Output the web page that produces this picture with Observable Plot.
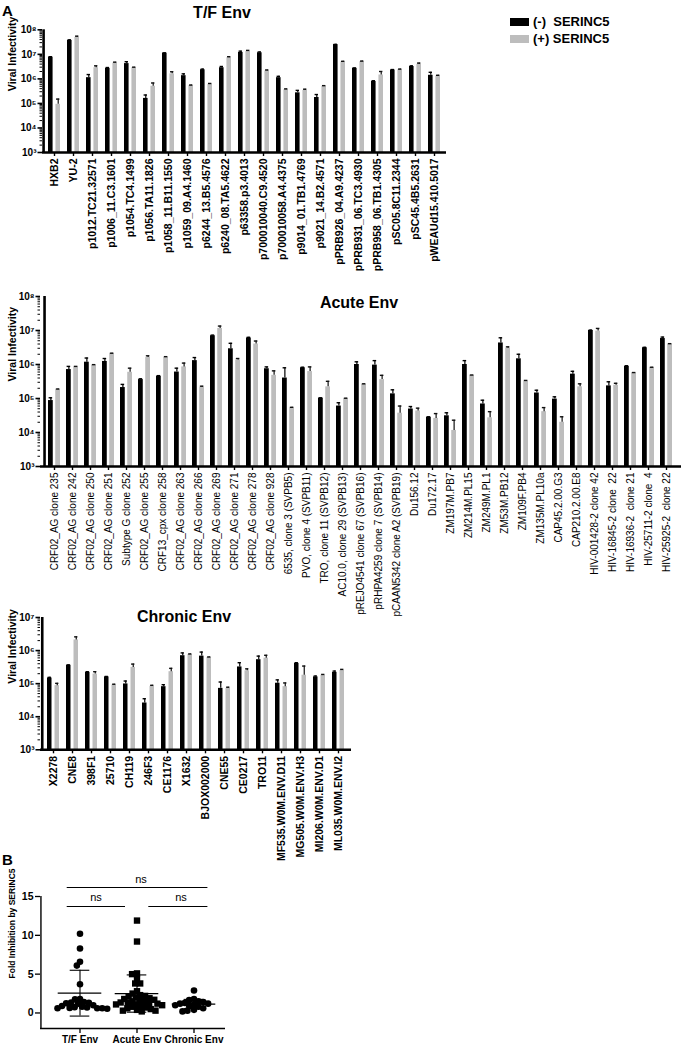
<!DOCTYPE html>
<html><head><meta charset="utf-8">
<script src="https://cdn.jsdelivr.net/npm/d3@7"></script>
<script src="https://cdn.jsdelivr.net/npm/@observablehq/plot@0.6"></script>
<style>
body{margin:0;background:#fff;}
#page{position:relative;width:681px;height:1050px;overflow:hidden;font-family:Arial,"Liberation Sans",sans-serif;color:#000;}
.title{position:absolute;font-weight:bold;font-size:16px;white-space:nowrap;transform:translate(-50%,-50%);}
.letter{position:absolute;font-weight:bold;font-size:15px;}
.leg{position:absolute;font-weight:bold;font-size:13px;white-space:pre;}
.sw{position:absolute;width:19px;height:8px;}
</style></head><body><div id="page"></div>
<script>
// ---------- Panel A: T/F Env ----------
const tfStrains = ["HXB2","YU-2","p1012.TC21.32571","p1006_11.C3.1601","p1054.TC4.1499","p1056.TA11.1826","p1058_11.B11.1550","p1059_09.A4.1460","p6244_13.B5.4576","p6240_08.TA5.4622","p63358.p3.4013","p700010040.C9.4520","p700010058.A4.4375","p9014_01.TB1.4769","p9021_14.B2.4571","pPRB926_04.A9.4237","pPRB931_06.TC3.4930","pPRB958_06.TB1.4305","pSC05.8C11.2344","pSC45.4B5.2631","pWEAUd15.410.5017"];
const tfNeg   = [7.7e6,3.7e7,1.12e6,2.7e6,4.2e6,1.6e5,1.12e7,1.35e6,2.35e6,2.85e6,1.2e7,1.16e7,1.12e6,2.7e5,1.74e5,2.5e7,2.7e6,7.9e5,2.3e6,3.2e6,1.4e6];
const tfNegHi = [8.0e6,3.9e7,1.5e6,2.9e6,5.0e6,2.2e5,1.15e7,1.6e6,2.5e6,3.2e6,1.35e7,1.25e7,1.27e6,3.4e5,2.3e5,2.55e7,2.8e6,8.4e5,2.4e6,3.4e6,1.85e6];
const tfPos   = [9.2e4,4.9e7,2.85e6,4.4e6,2.85e6,5.0e5,1.6e6,5.3e5,6.0e5,7.3e6,1.32e7,2.1e6,3.6e5,3.4e5,5.0e5,4.9e6,5.0e6,1.44e6,2.35e6,3.9e6,1.3e6];
const tfPosHi = [1.5e5,5.5e7,3.4e6,4.8e6,3.0e6,6.8e5,1.95e6,5.6e5,6.5e5,8.0e6,1.45e7,2.3e6,3.9e5,3.8e5,5.3e5,5.2e6,5.3e6,2.0e6,2.5e6,4.4e6,1.4e6];

// ---------- Panel A: Acute Env ----------
const acStrains = ["CRF02_AG clone 235","CRF02_AG clone 242","CRF02_AG clone 250","CRF02_AG clone 251","Subtype G clone 252","CRF02_AG clone 255","CRF13_cpx clone 258","CRF02_AG clone 263","CRF02_AG clone 266","CRF02_AG clone 269","CRF02_AG clone 271","CRF02_AG clone 278","CRF02_AG clone 928","6535, clone 3 (SVPB5)","PVO, clone 4 (SVPB11)","TRO, clone 11 (SVPB12)","AC10.0, clone 29 (SVPB13)","pREJO4541 clone 67 (SVPB16)","pRHPA4259 clone 7 (SVPB14)","pCAAN5342 clone A2 (SVPB19)","Du156.12","Du172.17","ZM197M.PB7","ZM214M.PL15","ZM249M.PL1","ZM53M.PB12","ZM109F.PB4","ZM135M.PL10a","CAP45.2.00.G3","CAP210.2.00.E8","HIV-001428-2 clone 42","HIV-16845-2 clone  22","HIV-16936-2  clone 21","HIV-25711-2 clone  4","HIV-25925-2  clone 22"];
const acNeg   = [8.7e4,7.1e5,1.17e6,1.23e6,2.1e5,3.6e5,4.5e5,6.0e5,1.3e6,7.0e6,2.9e6,6.0e6,7.5e5,4.0e5,8.0e5,1.02e5,6.0e4,1.0e6,9.6e5,1.37e5,4.9e4,2.8e4,3.1e4,1.0e6,6.9e4,4.3e6,1.47e6,1.45e5,9.6e4,5.2e5,1.0e7,2.35e5,8.8e5,3.1e6,5.8e6];
const acNegHi = [1.05e5,8.8e5,1.55e6,1.5e6,2.6e5,3.8e5,4.7e5,7.8e5,1.6e6,7.3e6,4.2e6,6.3e6,8.5e5,8.0e5,8.3e5,1.05e5,7.5e4,1.2e6,1.3e6,1.8e5,5.8e4,2.9e4,3.8e4,1.3e6,8.9e4,6.1e6,2.0e6,1.75e5,1.12e5,6.3e5,1.03e7,3.1e5,9.2e5,3.2e6,6.4e6];
const acPos   = [1.8e5,8.4e5,9.4e5,2.05e6,5.9e5,1.6e6,1.6e6,8.5e5,2.1e5,1.15e7,1.35e6,4.0e6,4.8e5,5.2e4,6.2e5,2.2e5,9.8e4,2.6e5,3.6e5,3.7e4,4.3e4,2.6e4,1.15e4,4.8e5,2.7e4,3.0e6,3.2e5,4.1e4,2.0e4,2.2e5,9.6e6,2.45e5,5.6e5,8.0e5,3.9e6];
const acPosHi = [1.9e5,8.8e5,9.9e5,2.15e6,7.8e5,1.8e6,1.7e6,1.1e6,2.3e5,1.35e7,1.5e6,4.9e6,6.5e5,5.5e4,8.5e5,3.2e5,1.02e5,2.7e5,4.8e5,6.0e4,5.2e4,3.6e4,2.3e4,4.9e5,4.1e4,3.3e6,3.4e5,5.4e4,2.9e4,2.7e5,1.15e7,2.8e5,5.8e5,8.3e5,4.1e6];

// ---------- Panel A: Chronic Env ----------
const chStrains = ["X2278","CNE8","398F1","25710","CH119","246F3","CE1176","X1632","BJOX002000","CNE55","CE0217","TRO11","MF535.W0M.ENV.D11","MG505.W0M.ENV.H3","MI206.W0M.ENV.D1","ML035.W0M.ENV.I2"];
const chNeg   = [1.48e5,3.6e5,2.2e5,1.6e5,9.8e4,2.6e4,8.1e4,7.0e5,6.8e5,7.2e4,3.2e5,5.3e5,1.03e5,4.1e5,1.6e5,2.2e5];
const chNegHi = [1.55e5,3.7e5,2.3e5,1.65e5,1.2e5,3.5e4,9.3e4,8.5e5,9.0e5,1.12e5,4.3e5,6.8e5,1.3e5,4.3e5,1.7e5,2.4e5];
const chPos   = [8.7e4,2.1e6,1.95e5,9.1e4,3.1e5,8.3e4,2.3e5,7.6e5,6.2e5,7.2e4,2.45e5,5.9e5,8.1e4,1.8e5,1.8e5,2.5e5];
const chPosHi = [1.02e5,2.6e6,2.3e5,9.6e4,3.9e5,8.9e4,2.9e5,7.9e5,6.4e5,7.8e4,2.8e5,7.2e5,1.05e5,3.4e5,1.9e5,2.7e5];

const seriesLabels = ["(-)  SERINC5", "(+) SERINC5"];

// ---------- Panel B ----------
const bGroups = ["T/F Env","Acute Env","Chronic Env"];
const tfFold = [10.2,8.3,6.6,6.1,3.7,1.8,1.75,1.4,1.35,1.3,1.25,1.2,1.0,0.9,0.8,0.75,0.7,0.65,0.6,0.6,0.6,0.55];
const acFold = [11.9,9.2,5.1,5.0,4.4,3.8,3.8,2.8,2.5,2.3,2.2,2.1,2.0,1.9,1.8,1.7,1.6,1.5,1.4,1.35,1.3,1.2,1.2,1.1,1.1,1.0,0.9,0.8,0.7,0.6,0.5,0.4,0.3,0.3,0.2];
const chFold = [2.9,1.8,1.65,1.5,1.4,1.3,1.2,1.2,1.1,1.0,0.9,0.8,0.6,0.4,0.3,0.2];
const bMean = [2.55, 2.5, 1.15];
const bSD = [2.95, 2.4, 0.6];
const bTicks = [0, 5, 10, 15];

// ---------- helpers ----------
const FONT = "Arial, 'Liberation Sans', sans-serif";
const BLACK = "#000", GREY = "#bdbdbd";
const page = document.getElementById("page");
function place(el, left, top) {
  el.style.position = "absolute"; el.style.left = left + "px"; el.style.top = top + "px";
  page.appendChild(el);
}
function div(cls, text, x, y) {
  const d = document.createElement("div"); d.className = cls; d.textContent = text;
  d.style.left = x + "px"; d.style.top = y + "px"; page.appendChild(d); return d;
}
const supMap = {"0":"⁰","1":"¹","2":"²","3":"³","4":"⁴","5":"⁵","6":"⁶","7":"⁷","8":"⁸","9":"⁹"};
const supFmt = d => "10" + String(Math.round(Math.log10(d))).split("").map(c => supMap[c]).join("");

function barPanel({strains, neg, negHi, pos, posHi, width, height, marginLeft, marginTop, marginBottom, pi, po, yDomain, labelWeight, labelSize}) {
  const n = strains.length;
  const step = (width - marginLeft) / (n - pi + 2 * po);
  const bw = step * (1 - pi);
  const barW = 5;
  const negData = strains.map((s, i) => ({strain: s, v: neg[i], hi: negHi[i]}));
  const posData = strains.map((s, i) => ({strain: s, v: pos[i], hi: posHi[i]}));
  const k0 = Math.round(Math.log10(yDomain[0])), k1 = Math.round(Math.log10(yDomain[1]));
  const majors = d3.range(k0, k1 + 1).map(k => 10 ** k);
  const minors = d3.range(k0, k1).flatMap(k => d3.range(2, 10).map(m => m * 10 ** k));
  return Plot.plot({
    width, height, marginLeft, marginRight: 0, marginTop, marginBottom,
    style: {background: "transparent", fontFamily: FONT, color: "#000", overflow: "visible"},
    x: {domain: strains, paddingInner: pi, paddingOuter: po},
    y: {type: "log", domain: yDomain},
    marks: [
      Plot.barY(negData, {x: "strain", y1: yDomain[0], y2: "v", fill: BLACK, insetLeft: 0, insetRight: bw - barW}),
      Plot.barY(posData, {x: "strain", y1: yDomain[0], y2: "v", fill: GREY, insetLeft: bw - barW, insetRight: 0}),
      Plot.ruleX(negData, {x: "strain", y1: "v", y2: "hi", dx: barW / 2 - bw / 2, stroke: BLACK, strokeWidth: 1.2}),
      Plot.tickY(negData, {x: "strain", y: "hi", insetLeft: 0.6, insetRight: bw - barW + 0.6, stroke: BLACK, strokeWidth: 1.4}),
      Plot.ruleX(posData, {x: "strain", y1: "v", y2: "hi", dx: bw / 2 - barW / 2, stroke: "#111", strokeWidth: 1.2}),
      Plot.tickY(posData, {x: "strain", y: "hi", insetLeft: bw - barW + 0.6, insetRight: 0.6, stroke: "#111", strokeWidth: 1.4}),
      Plot.axisY(minors, {tickSize: 2.5, tickFormat: () => "", strokeWidth: 1, label: null}),
      Plot.axisY(majors, {tickSize: 4.5, tickPadding: 1.5, tickFormat: supFmt, fontSize: 10, fontWeight: "bold", strokeWidth: 1.6, label: null}),
      Plot.axisX({tickRotate: -90, tickSize: 4, tickPadding: 2, fontSize: labelSize, fontWeight: labelWeight, strokeWidth: 1.4, label: null}),
      Plot.ruleY([yDomain[0]], {stroke: BLACK, strokeWidth: 2.4}),
      Plot.ruleX([strains[0]], {dx: -(po * step + bw / 2), stroke: BLACK, strokeWidth: 2.6}),
      Plot.text(["Viral Infectivity"], {text: d => d, frameAnchor: "left", rotate: -90, dx: -(marginLeft - 12), fontSize: 10.5, fontWeight: "bold"})
    ]
  });
}

// T/F panel
place(barPanel({strains: tfStrains, neg: tfNeg, negHi: tfNegHi, pos: tfPos, posHi: tfPosHi,
  width: 446, height: 267, marginLeft: 42, marginTop: 29.3, marginBottom: 115, pi: 0.35, po: 0.246,
  yDomain: [1e3, 1e8], labelWeight: "bold", labelSize: 10.5}), 0, 0);
// Acute panel
place(barPanel({strains: acStrains, neg: acNeg, negHi: acNegHi, pos: acPos, posHi: acPosHi,
  width: 681, height: 329, marginLeft: 40, marginTop: 11, marginBottom: 148, pi: 0.33, po: 0.21,
  yDomain: [1e3, 1e8], labelWeight: "normal", labelSize: 10}), 0, 285);
// Chronic panel
place(barPanel({strains: chStrains, neg: chNeg, negHi: chNegHi, pos: chPos, posHi: chPosHi,
  width: 351, height: 259, marginLeft: 40, marginTop: 12, marginBottom: 114.7, pi: 0.35, po: 0.26,
  yDomain: [1e3, 1e7], labelWeight: "bold", labelSize: 10.5}), 0, 605);

// Titles, letters, legend
div("title", "T/F Env", 222, 13);
div("title", "Acute Env", 359, 303);
div("title", "Chronic Env", 184, 617);
div("letter", "A", 2, 2);
div("letter", "B", 2, 851);
const sw1 = document.createElement("div"); sw1.className = "sw"; sw1.style.background = BLACK; place(sw1, 510, 18);
const sw2 = document.createElement("div"); sw2.className = "sw"; sw2.style.background = GREY; place(sw2, 510, 35);
div("leg", seriesLabels[0], 533, 14);
div("leg", seriesLabels[1], 533, 31);

// ---------- Panel B plots ----------
const bW = 233, bH = 190, bML = 40, bMT = 36, bMB = 22, bPO = 0.18;
const bStep = (bW - bML) / (3 + 2 * bPO);
const bStats = bGroups.map((g, i) => ({group: g, mean: bMean[i], lo: bMean[i] - bSD[i], hi: bMean[i] + bSD[i]}));
const bStyle = {background: "transparent", fontFamily: FONT, color: "#000", overflow: "visible"};
const axesB = Plot.plot({
  width: bW, height: bH, marginLeft: bML, marginRight: 0, marginTop: bMT, marginBottom: bMB,
  style: bStyle,
  x: {domain: bGroups, paddingInner: 0, paddingOuter: bPO},
  y: {domain: [-2, 15]},
  marks: [
    Plot.axisY(bTicks, {tickSize: 5, tickPadding: 2, fontSize: 10.5, fontWeight: "bold", strokeWidth: 1.3, label: null}),
    Plot.axisX({tickSize: 5, tickPadding: 2, fontSize: 10, fontWeight: "bold", strokeWidth: 1.3, label: null}),
    Plot.ruleY([-2], {stroke: BLACK, strokeWidth: 1.4, insetRight: 8}),
    Plot.ruleX([bGroups[0]], {dx: -(bPO * bStep + bStep / 2), stroke: BLACK, strokeWidth: 1.4}),
    Plot.tickY(bStats, {x: "group", y: "mean", insetLeft: 6.7, insetRight: 6.7, stroke: BLACK, strokeWidth: 1.3}),
    Plot.ruleX(bStats, {x: "group", y1: "lo", y2: "hi", stroke: BLACK, strokeWidth: 1.1}),
    Plot.tickY(bStats, {x: "group", y: "hi", insetLeft: 18.7, insetRight: 18.7, stroke: BLACK, strokeWidth: 1.1}),
    Plot.tickY(bStats, {x: "group", y: "lo", insetLeft: 18.7, insetRight: 18.7, stroke: BLACK, strokeWidth: 1.1}),
    Plot.ruleY([16.16], {x1: () => bGroups[0], x2: () => bGroups[2], insetLeft: 15.7, insetRight: 14.6, stroke: BLACK, strokeWidth: 1.2}),
    Plot.ruleY([13.71], {x1: () => bGroups[0], x2: () => bGroups[1], insetLeft: 15.7, insetRight: 40, stroke: BLACK, strokeWidth: 1.2}),
    Plot.ruleY([13.71], {x1: () => bGroups[1], x2: () => bGroups[2], insetLeft: 40.3, insetRight: 14.6, stroke: BLACK, strokeWidth: 1.2}),
    Plot.text(["ns"], {x: () => bGroups[1], y: 17.2, text: d => d, dx: 4, fontSize: 11}),
    Plot.text(["ns"], {x: () => bGroups[0], y: 14.87, text: d => d, dx: 16, fontSize: 11}),
    Plot.text(["ns"], {x: () => bGroups[2], y: 14.87, text: d => d, dx: -13, fontSize: 11}),
    Plot.text(["Fold Inhibition by SERINC5"], {text: d => d, frameAnchor: "left", rotate: -90, dx: -28, dy: 16, fontSize: 8.5, fontWeight: "bold"})
  ]
});
place(axesB, 0, 860);

const bData = [
  ...tfFold.map(v => ({group: bGroups[0], v})),
  ...acFold.map(v => ({group: bGroups[1], v})),
  ...chFold.map(v => ({group: bGroups[2], v}))
];
const dotsB = Plot.plot({
  width: bW, height: bH, marginLeft: bML, marginRight: 0, marginTop: bMT, marginBottom: bMB,
  style: bStyle,
  fx: {domain: bGroups, paddingInner: 0, paddingOuter: bPO, axis: null},
  y: {domain: [-2, 15], axis: null},
  marks: [
    Plot.dot(bData, Plot.dodgeX({anchor: "middle", padding: -1.6}, {fx: "group", y: "v", r: 3.3, fill: BLACK, symbol: "circle", filter: d => d.group !== bGroups[1]})),
    Plot.dot(bData, Plot.dodgeX({anchor: "middle", padding: -2.2}, {fx: "group", y: "v", r: 3.6, fill: BLACK, symbol: "square", filter: d => d.group === bGroups[1]}))
  ]
});
place(dotsB, 0, 860);
</script></body></html>
